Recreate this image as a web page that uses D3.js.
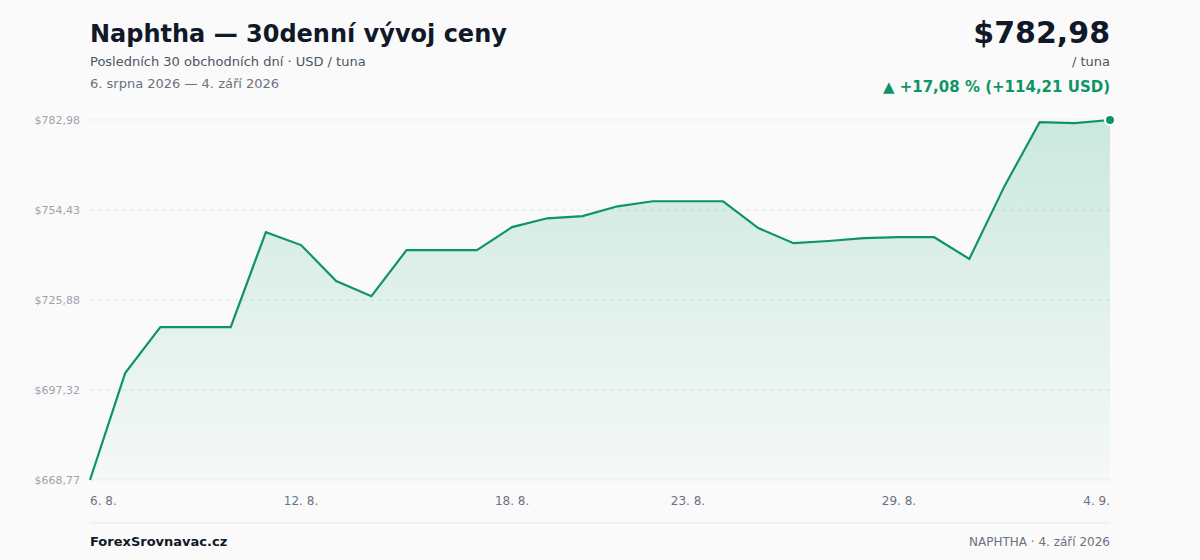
<!DOCTYPE html><html><head><meta charset="utf-8"><script src="https://cdn.jsdelivr.net/npm/d3@7"></script>
<style>body{margin:0;background:#fafafa;font-family:"DejaVu Sans",sans-serif}</style></head><body><svg id="c" width="1200" height="560"></svg><script>
const values=[668.77,702.7,717.3,717.3,717.3,747.4,743.3,731.9,727.1,741.7,741.7,741.7,749.0,751.8,752.5,755.6,757.2,757.2,757.2,748.7,743.9,744.6,745.5,745.8,745.8,738.9,762.0,782.3,782.0,782.98];
const tickIdx=[0,6,12,17,23,29];
const tickLabels=["6. 8.","12. 8.","18. 8.","23. 8.","29. 8.","4. 9."];
const yTicks=[668.77,697.32,725.88,754.43,782.98];
const fmt=v=>"$"+v.toFixed(2).replace(".",",");
const svg=d3.select("#c");
const x=d3.scaleLinear().domain([0,29]).range([90,1110]);
const y=d3.scaleLinear().domain([668.77,782.98]).range([480,120]);
const defs=svg.append("defs");
const g=defs.append("linearGradient").attr("id","gr").attr("x1",0).attr("x2",0).attr("y1",0).attr("y2",1);
g.append("stop").attr("offset","0%").attr("stop-color","#10a36b").attr("stop-opacity",0.2);
g.append("stop").attr("offset","100%").attr("stop-color","#10a36b").attr("stop-opacity",0.02);
yTicks.forEach(t=>{svg.append("line").attr("x1",90).attr("x2",1110).attr("y1",y(t)).attr("y2",y(t)).attr("stroke","#e5e7eb").attr("stroke-dasharray","4,4");
svg.append("text").attr("x",80).attr("y",y(t)+4).attr("text-anchor","end").attr("font-size",11).attr("fill","#9ca3af").text(fmt(t));});
svg.append("path").datum(values).attr("fill","url(#gr)").attr("d",d3.area().x((d,i)=>x(i)).y0(480).y1(d=>y(d)));
svg.append("path").datum(values).attr("fill","none").attr("stroke","#0f9466").attr("stroke-width",2.2).attr("d",d3.line().x((d,i)=>x(i)).y(d=>y(d)));
svg.append("circle").attr("cx",x(29)).attr("cy",y(values[29])).attr("r",5).attr("fill","#0f9466").attr("stroke","#fff").attr("stroke-width",2);
tickIdx.forEach((ix,k)=>svg.append("text").attr("x",x(ix)).attr("y",505).attr("font-size",12).attr("fill","#6b7280").attr("text-anchor",k==0?"start":k==5?"end":"middle").text(tickLabels[k]));
const t=(xx,yy,s,txt,o={})=>svg.append("text").attr("x",xx).attr("y",yy).attr("font-size",s).attr("fill",o.f||"#111827").attr("font-weight",o.w||"normal").attr("text-anchor",o.a||"start").text(txt);
t(90,42,24,"Naphtha — 30denní vývoj ceny",{w:"bold"});
t(90,66,13,"Posledních 30 obchodních dní · USD / tuna",{f:"#4b5563"});
t(90,88,13,"6. srpna 2026 — 4. září 2026",{f:"#6b7280"});
t(1110,43,30,"$782,98",{w:"bold",a:"end"});
t(1110,66,13,"/ tuna",{f:"#4b5563",a:"end"});
t(1110,92,15,"▲ +17,08 % (+114,21 USD)",{f:"#0f9466",w:"bold",a:"end"});
svg.append("line").attr("x1",90).attr("x2",1110).attr("y1",523).attr("y2",523).attr("stroke","#e5e7eb");
t(90,546,13,"ForexSrovnavac.cz",{w:"bold"});
t(1110,546,12,"NAPHTHA · 4. září 2026",{f:"#6b7280",a:"end"});
</script></body></html>
